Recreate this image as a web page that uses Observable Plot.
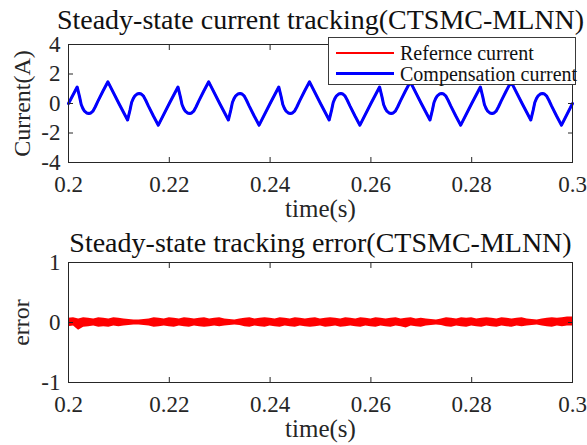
<!DOCTYPE html>
<html>
<head>
<meta charset="utf-8">
<script src="https://cdn.jsdelivr.net/npm/d3@7"></script>
<script src="https://cdn.jsdelivr.net/npm/@observablehq/plot@0.6"></script>
<style>
  html, body { margin: 0; padding: 0; background: #fff; }
  #wrap { position: relative; width: 587px; height: 445px; overflow: hidden;
          font-family: "Liberation Serif", "Times New Roman", serif; color: #262626; }
  #wrap svg { display: block; }
  #wrap svg text { font-family: "Liberation Serif", "Times New Roman", serif; }
  #legend { position: absolute; left: 328px; top: 37px; width: 248px; height: 48px;
            border: 1px solid #3a3a3a; background: #fff; box-sizing: border-box; }
  .lg-line { position: absolute; left: 7px; width: 58px; }
  .lg-text { position: absolute; left: 71px; font-size: 20px; line-height: 20px; white-space: nowrap; color: #111; }
</style>
</head>
<body>
<div id="wrap">
  <div id="top"></div>
  <div id="bottom"></div>
  <div id="legend"></div>
</div>
<script>
// ---------- text ----------
const titleTop = "Steady-state current tracking(CTSMC-MLNN)";
const titleBottom = "Steady-state tracking error(CTSMC-MLNN)";
const xLabel = "time(s)";
const yLabelTop = "Current(A)";
const yLabelBottom = "error";
const seriesNames = ["Refernce current", "Compensation current"];
const seriesColors = ["#ff0000", "#0000ff"];

// ---------- ticks ----------
const xTicks = [0.2, 0.22, 0.24, 0.26, 0.28, 0.3];
const xTickLabels = ["0.2", "0.22", "0.24", "0.26", "0.28", "0.3"];
const yTicksTop = [-4, -2, 0, 2, 4];
const yTickLabelsTop = ["-4", "-2", "0", "2", "4"];
const yTicksBottom = [-1, 0, 1];
const yTickLabelsBottom = ["-1", "0", "1"];

// ---------- current waveform ----------
const currentTime = [
  0.2, 0.20172, 0.2022, 0.20252, 0.20284, 0.20318, 0.2036, 0.20404, 0.20444, 0.20484, 0.20532, 0.20584, 0.20682, 0.20782,
  0.21, 0.21172, 0.2122, 0.21252, 0.21284, 0.21318, 0.2136, 0.21404, 0.21444, 0.21484, 0.21532, 0.21584, 0.21682, 0.21782,
  0.22, 0.22172, 0.2222, 0.22252, 0.22284, 0.22318, 0.2236, 0.22404, 0.22444, 0.22484, 0.22532, 0.22584, 0.22682, 0.22782,
  0.23, 0.23172, 0.2322, 0.23252, 0.23284, 0.23318, 0.2336, 0.23404, 0.23444, 0.23484, 0.23532, 0.23584, 0.23682, 0.23782,
  0.24, 0.24172, 0.2422, 0.24252, 0.24284, 0.24318, 0.2436, 0.24404, 0.24444, 0.24484, 0.24532, 0.24584, 0.24682, 0.24782,
  0.25, 0.25172, 0.2522, 0.25252, 0.25284, 0.25318, 0.2536, 0.25404, 0.25444, 0.25484, 0.25532, 0.25584, 0.25682, 0.25782,
  0.26, 0.26172, 0.2622, 0.26252, 0.26284, 0.26318, 0.2636, 0.26404, 0.26444, 0.26484, 0.26532, 0.26584, 0.26682, 0.26782,
  0.27, 0.27172, 0.2722, 0.27252, 0.27284, 0.27318, 0.2736, 0.27404, 0.27444, 0.27484, 0.27532, 0.27584, 0.27682, 0.27782,
  0.28, 0.28172, 0.2822, 0.28252, 0.28284, 0.28318, 0.2836, 0.28404, 0.28444, 0.28484, 0.28532, 0.28584, 0.28682, 0.28782,
  0.29, 0.29172, 0.2922, 0.29252, 0.29284, 0.29318, 0.2936, 0.29404, 0.29444, 0.29484, 0.29532, 0.29584, 0.29682, 0.29782,
  0.3
];
const currentValue = [
  0, 1.12, 0.45, -0.07, -0.33, -0.52, -0.64, -0.68, -0.64, -0.52, -0.22, 0.16, 0.83, 1.47,
  0, -1.12, -0.45, 0.07, 0.33, 0.52, 0.64, 0.68, 0.64, 0.52, 0.22, -0.16, -0.83, -1.47,
  0, 1.12, 0.45, -0.07, -0.33, -0.52, -0.64, -0.68, -0.64, -0.52, -0.22, 0.16, 0.83, 1.47,
  0, -1.12, -0.45, 0.07, 0.33, 0.52, 0.64, 0.68, 0.64, 0.52, 0.22, -0.16, -0.83, -1.47,
  0, 1.12, 0.45, -0.07, -0.33, -0.52, -0.64, -0.68, -0.64, -0.52, -0.22, 0.16, 0.83, 1.47,
  0, -1.12, -0.45, 0.07, 0.33, 0.52, 0.64, 0.68, 0.64, 0.52, 0.22, -0.16, -0.83, -1.47,
  0, 1.12, 0.45, -0.07, -0.33, -0.52, -0.64, -0.68, -0.64, -0.52, -0.22, 0.16, 0.83, 1.47,
  0, -1.12, -0.45, 0.07, 0.33, 0.52, 0.64, 0.68, 0.64, 0.52, 0.22, -0.16, -0.83, -1.47,
  0, 1.12, 0.45, -0.07, -0.33, -0.52, -0.64, -0.68, -0.64, -0.52, -0.22, 0.16, 0.83, 1.47,
  0, -1.12, -0.45, 0.07, 0.33, 0.52, 0.64, 0.68, 0.64, 0.52, 0.22, -0.16, -0.83, -1.47,
  0
];

// ---------- tracking error envelope ----------
const errorTime = [
  0.2, 0.201, 0.202, 0.203, 0.204, 0.205, 0.206, 0.207, 0.208, 0.209,
  0.21, 0.211, 0.212, 0.213, 0.214, 0.215, 0.216, 0.217, 0.218, 0.219,
  0.22, 0.221, 0.222, 0.223, 0.224, 0.225, 0.226, 0.227, 0.228, 0.229,
  0.23, 0.231, 0.232, 0.233, 0.234, 0.235, 0.236, 0.237, 0.238, 0.239,
  0.24, 0.241, 0.242, 0.243, 0.244, 0.245, 0.246, 0.247, 0.248, 0.249,
  0.25, 0.251, 0.252, 0.253, 0.254, 0.255, 0.256, 0.257, 0.258, 0.259,
  0.26, 0.261, 0.262, 0.263, 0.264, 0.265, 0.266, 0.267, 0.268, 0.269,
  0.27, 0.271, 0.272, 0.273, 0.274, 0.275, 0.276, 0.277, 0.278, 0.279,
  0.28, 0.281, 0.282, 0.283, 0.284, 0.285, 0.286, 0.287, 0.288, 0.289,
  0.29, 0.291, 0.292, 0.293, 0.294, 0.295, 0.296, 0.297, 0.298, 0.299,
  0.3
];
const errorHigh = [
  0.07, 0.08, 0.06, 0.08, 0.07, 0.06, 0.08, 0.07, 0.06, 0.08,
  0.07, 0.06, 0.05, 0.04, 0.04, 0.05, 0.06, 0.08, 0.07, 0.06,
  0.08, 0.07, 0.06, 0.08, 0.07, 0.06, 0.07, 0.08, 0.06, 0.07,
  0.08, 0.06, 0.05, 0.04, 0.06, 0.07, 0.08, 0.06, 0.07, 0.08,
  0.07, 0.06, 0.08, 0.07, 0.06, 0.08, 0.07, 0.06, 0.07, 0.08,
  0.06, 0.07, 0.08, 0.07, 0.06, 0.08, 0.07, 0.06, 0.08, 0.07,
  0.06, 0.08, 0.07, 0.06, 0.07, 0.08, 0.06, 0.07, 0.08, 0.06,
  0.07, 0.06, 0.05, 0.04, 0.06, 0.08, 0.07, 0.06, 0.08, 0.07,
  0.08, 0.06, 0.07, 0.08, 0.07, 0.06, 0.08, 0.07, 0.06, 0.07,
  0.08, 0.06, 0.05, 0.04, 0.06, 0.07, 0.08, 0.07, 0.08, 0.09,
  0.09
];
const errorLow = [
  -0.07, -0.06, -0.13, -0.08, -0.07, -0.06, -0.08, -0.07, -0.08, -0.06,
  -0.07, -0.06, -0.05, -0.04, -0.04, -0.05, -0.06, -0.08, -0.07, -0.06,
  -0.07, -0.08, -0.06, -0.07, -0.08, -0.06, -0.07, -0.08, -0.07, -0.06,
  -0.07, -0.06, -0.05, -0.04, -0.05, -0.07, -0.08, -0.06, -0.07, -0.08,
  -0.06, -0.07, -0.08, -0.06, -0.07, -0.08, -0.06, -0.07, -0.08, -0.07,
  -0.06, -0.08, -0.07, -0.06, -0.08, -0.07, -0.06, -0.07, -0.08, -0.06,
  -0.07, -0.08, -0.06, -0.07, -0.08, -0.06, -0.07, -0.09, -0.06, -0.07,
  -0.08, -0.06, -0.05, -0.04, -0.05, -0.07, -0.08, -0.06, -0.07, -0.08,
  -0.06, -0.07, -0.08, -0.06, -0.07, -0.08, -0.06, -0.07, -0.08, -0.06,
  -0.07, -0.06, -0.05, -0.04, -0.06, -0.07, -0.08, -0.06, -0.07, -0.06,
  -0.06
];

// ---------- build ----------
const serif = '"Liberation Serif", "Times New Roman", serif';
const ink = "#262626";
const currentRows = currentTime.map((t, i) => ({t, v: currentValue[i]}));
const errorRows = errorTime.map((t, i) => ({t, hi: errorHigh[i], lo: errorLow[i]}));

function boxAxes(yTicks, yLabels) {
  return [
    Plot.frame({stroke: ink, strokeWidth: 1}),
    // inward ticks on all four sides
    Plot.axisX(xTicks, {anchor: "bottom", tickSize: 5, dy: -5, tickFormat: () => "", label: null, stroke: ink}),
    Plot.axisX(xTicks, {anchor: "top", tickSize: 5, dy: 5, tickFormat: () => "", label: null, stroke: ink}),
    Plot.axisY(yTicks, {anchor: "left", tickSize: 5, dx: 5, tickFormat: () => "", label: null, stroke: ink}),
    Plot.axisY(yTicks, {anchor: "right", tickSize: 5, dx: -5, tickFormat: () => "", label: null, stroke: ink}),
    // labels
    Plot.axisX(xTicks, {anchor: "bottom", tickSize: 0, tickPadding: 13, label: null,
      tickFormat: d => xTickLabels[xTicks.indexOf(d)], fill: ink,
      fontFamily: serif, fontSize: 23, fontVariant: "normal"}),
    Plot.axisY(yTicks, {anchor: "left", tickSize: 0, tickPadding: 8, label: null,
      tickFormat: d => yLabels[yTicks.indexOf(d)], fill: ink,
      fontFamily: serif, fontSize: 23, fontVariant: "normal"})
  ];
}

const topPlot = Plot.plot({
  width: 587, height: 230,
  marginTop: 44, marginBottom: 68, marginLeft: 68, marginRight: 15,
  style: {fontFamily: serif, fontSize: "23px", color: ink, background: "transparent", overflow: "visible"},
  x: {domain: [0.2, 0.3]},
  y: {domain: [-4, 4]},
  marks: [
    Plot.line(currentRows, {x: "t", y: "v", stroke: seriesColors[0], strokeWidth: 2}),
    Plot.line(currentRows, {x: "t", y: "v", stroke: seriesColors[1], strokeWidth: 3}),
    ...boxAxes(yTicksTop, yTickLabelsTop),
    Plot.text([xLabel], {frameAnchor: "bottom", dy: 54, lineAnchor: "bottom", textAnchor: "middle", fontSize: 25, fill: ink}),
    Plot.text([yLabelTop], {frameAnchor: "left", dx: -39, rotate: -90, lineAnchor: "bottom", textAnchor: "middle", fontSize: 24, fill: ink}),
    Plot.text([titleTop], {frameAnchor: "top", dy: -16, lineAnchor: "bottom", textAnchor: "middle", fontSize: 28, fill: "#111"})
  ]
});

const bottomPlot = Plot.plot({
  width: 587, height: 215,
  marginTop: 32, marginBottom: 63, marginLeft: 68, marginRight: 15,
  style: {fontFamily: serif, fontSize: "23px", color: ink, background: "transparent", overflow: "visible"},
  x: {domain: [0.2, 0.3]},
  y: {domain: [-1, 1]},
  marks: [
    Plot.areaY(errorRows, {x: "t", y1: "lo", y2: "hi", fill: "#ff0000"}),
    ...boxAxes(yTicksBottom, yTickLabelsBottom),
    Plot.text([xLabel], {frameAnchor: "bottom", dy: 54, lineAnchor: "bottom", textAnchor: "middle", fontSize: 25, fill: ink}),
    Plot.text([yLabelBottom], {frameAnchor: "left", dx: -40, rotate: -90, lineAnchor: "bottom", textAnchor: "middle", fontSize: 24, fill: ink}),
    Plot.text([titleBottom], {frameAnchor: "top", dy: -11, lineAnchor: "bottom", textAnchor: "middle", fontSize: 28, fill: "#111"})
  ]
});

document.getElementById("top").appendChild(topPlot);
document.getElementById("bottom").appendChild(bottomPlot);

// legend
const legend = document.getElementById("legend");
const rowsY = [14.5, 35.5];
seriesNames.forEach((name, i) => {
  const line = document.createElement("div");
  line.className = "lg-line";
  line.style.top = (rowsY[i] - (i === 0 ? 1 : 1.5)) + "px";
  line.style.borderTop = (i === 0 ? 2 : 3) + "px solid " + seriesColors[i];
  legend.appendChild(line);
  const txt = document.createElement("div");
  txt.className = "lg-text";
  txt.style.top = (rowsY[i] - 10) + "px";
  txt.textContent = name;
  legend.appendChild(txt);
});
</script>
</body>
</html>
